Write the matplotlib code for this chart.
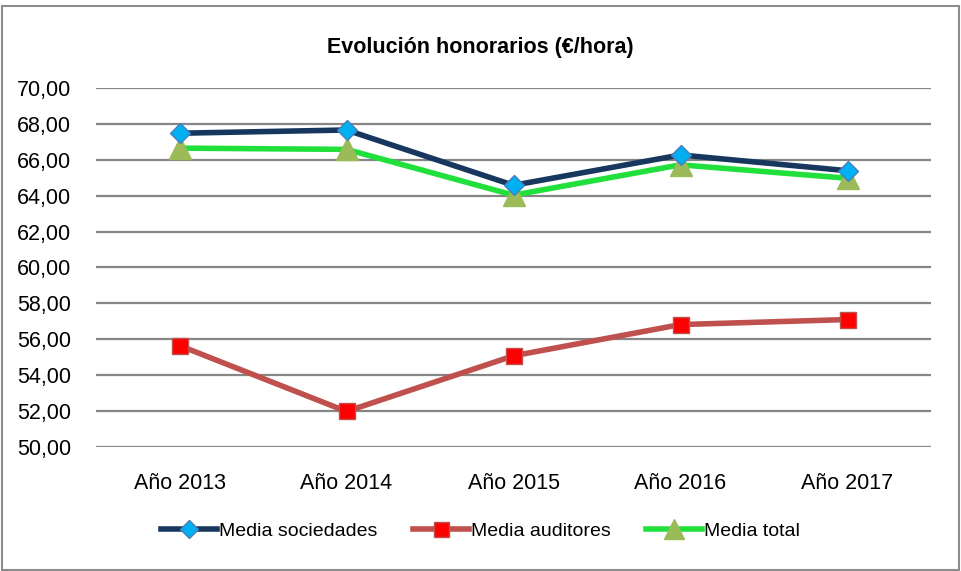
import matplotlib

matplotlib.use("Agg")
import matplotlib.pyplot as plt
from matplotlib.patches import Rectangle
from matplotlib.ticker import FuncFormatter

plt.rcParams["font.family"] = ["Liberation Sans", "DejaVu Sans"]

# Data
years = ["Año 2013", "Año 2014", "Año 2015", "Año 2016", "Año 2017"]
media_sociedades = [67.48, 67.66, 64.58, 66.27, 65.39]
media_auditores = [55.65, 51.98, 55.08, 56.82, 57.10]
media_total = [66.65, 66.58, 64.03, 65.72, 64.97]

fig = plt.figure(figsize=(9.61, 5.71), dpi=100)
ax = fig.add_axes([0.0999, 0.2172, 0.8689, 0.6287])

x = list(range(len(years)))

ax.plot(x, media_sociedades, color="#17375E", linewidth=4, marker="D",
        markersize=10, markerfacecolor="#00B0F0", markeredgecolor="#4A7EBB",
        markeredgewidth=1, label="Media sociedades", zorder=4)
ax.plot(x, media_auditores, color="#C0504D", linewidth=4, marker="s",
        markersize=12, markerfacecolor="#FF0000", markeredgecolor="#C0504D",
        markeredgewidth=1, label="Media auditores", zorder=3)
ax.plot(x, media_total, color="#22E03C", linewidth=4, marker="^",
        markersize=16, markerfacecolor="#9BBB59", markeredgecolor="#9BBB59",
        markeredgewidth=1, label="Media total", zorder=3)

ax.set_xlim(-0.5, len(years) - 0.5)
ax.set_ylim(50, 70)
ax.set_yticks(range(50, 71, 2))
ax.yaxis.set_major_formatter(FuncFormatter(lambda v, p: f"{v:.2f}".replace(".", ",")))
ax.set_xticks(x)
ax.set_xticklabels(years)

ax.grid(True, axis="y", color="#868686", linewidth=1.6)
ax.set_axisbelow(True)
for spine in ax.spines.values():
    spine.set_visible(False)
ax.tick_params(axis="both", length=0, labelsize=15.5, colors="#000000")
ax.tick_params(axis="y", pad=18)
ax.tick_params(axis="x", pad=19)

fig.text(0.5, 0.917, "Evolución honorarios (€/hora)", ha="center", va="center",
         fontsize=15.5, fontweight="bold")

ax.legend(loc="center", bbox_to_anchor=(0.5, 1 - 531 / 571), bbox_transform=fig.transFigure,
          ncol=3, frameon=False, fontsize=14, handlelength=2.9, handletextpad=0.1,
          columnspacing=1.8, markerscale=0.9)

# chart border
fig.patches.append(Rectangle((1.5 / 961, 1.5 / 571), 957.5 / 961, 564 / 571,
                             transform=fig.transFigure, fill=False,
                             edgecolor="#8C8C8C", linewidth=1.5))

fig.savefig("out.png", dpi=100, facecolor="white")
plt.close(fig)
